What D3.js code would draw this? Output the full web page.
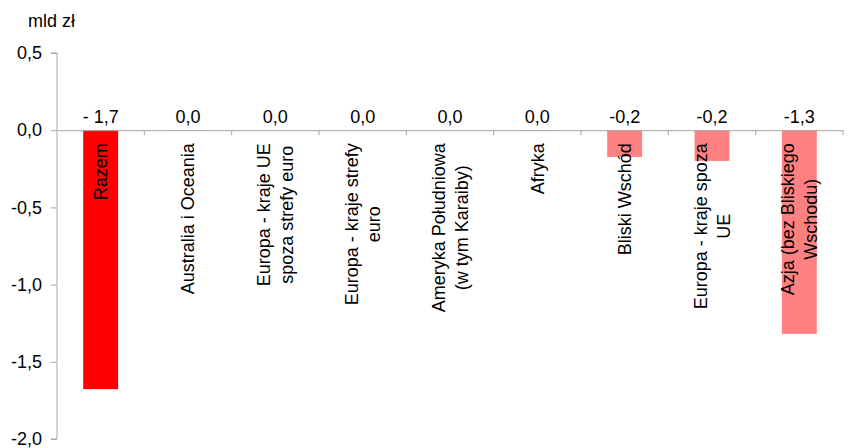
<!DOCTYPE html>
<html>
<head>
<meta charset="utf-8">
<script src="https://cdn.jsdelivr.net/npm/d3@7"></script>
<style>
  body { margin: 0; background: #fff; }
  svg { display: block; }
  text { font-family: "Liberation Sans", Arial, sans-serif; fill: #000; }
</style>
</head>
<body>
<svg id="chart" width="861" height="448"></svg>
<script>
const categories = [
  ["Razem"],
  ["Australia i Oceania"],
  ["Europa - kraje UE", "spoza strefy euro"],
  ["Europa - kraje strefy", "euro"],
  ["Ameryka Południowa", "(w tym Karaiby)"],
  ["Afryka"],
  ["Bliski Wschód"],
  ["Europa - kraje spoza", "UE"],
  ["Azja (bez Bliskiego", "Wschodu)"]
];
const values = [-1.677, -0.002, 0.0, 0.0, 0.0, -0.003, -0.173, -0.199, -1.319];
const valueLabels = ["- 1,7", "0,0", "0,0", "0,0", "0,0", "0,0", "-0,2", "-0,2", "-1,3"];
const yTicks = [0.5, 0.0, -0.5, -1.0, -1.5, -2.0];
const yTickLabels = ["0,5", "0,0", "-0,5", "-1,0", "-1,5", "-2,0"];
const unitLabel = "mld zł";

(function () {
const svg = d3.select("#chart");
const mLeft = 57, mRight = 843, mTop = 53, mBottom = 439;
const fs = 18;

const x = d3.scaleBand().domain(d3.range(categories.length)).range([mLeft, mRight]).paddingInner(0).paddingOuter(0);
const y = d3.scaleLinear().domain([0.5, -2.0]).range([mTop, mBottom]);
const axisColor = "#a6a6a6";
const barW = x.bandwidth() * 0.4;

// unit label
svg.append("text").attr("x", 28).attr("y", 27).attr("font-size", fs).text(unitLabel);

// bars
svg.append("g").selectAll("rect").data(values).join("rect")
  .attr("x", (d, i) => x(i) + (x.bandwidth() - barW) / 2)
  .attr("width", barW)
  .attr("y", d => y(Math.max(0, d)))
  .attr("height", d => Math.abs(y(d) - y(0)))
  .attr("fill", (d, i) => i === 0 ? "#ff0000" : "#ff8080");

// y axis
const yAxis = d3.axisLeft(y).tickValues(yTicks).tickFormat((d, i) => yTickLabels[i]).tickSize(6).tickPadding(9);
const gy = svg.append("g").attr("transform", `translate(${mLeft},0)`).call(yAxis);
gy.select(".domain").attr("stroke", axisColor).attr("d", `M-6,${y(0.5)}H0V${y(-2.0)}H-6`);
gy.selectAll(".tick line").attr("stroke", axisColor);
gy.selectAll(".tick text").attr("font-size", fs).attr("font-family", "Liberation Sans, Arial, sans-serif").attr("fill", "#000");

// zero (category) axis
const xAxis = d3.axisBottom(x).tickValues([]).tickSizeOuter(0);
const gx = svg.append("g").attr("transform", `translate(0,${y(0)})`).call(xAxis);
gx.select(".domain").attr("stroke", axisColor);
gx.selectAll(".sep").data(d3.range(1, categories.length + 1)).join("line")
  .attr("class", "sep")
  .attr("x1", i => i < categories.length ? x(i) : mRight)
  .attr("x2", i => i < categories.length ? x(i) : mRight)
  .attr("y1", 0).attr("y2", 5)
  .attr("stroke", axisColor);

// value labels
svg.append("g").selectAll("text").data(valueLabels).join("text")
  .attr("x", (d, i) => x(i) + x.bandwidth() / 2)
  .attr("y", y(0) - 7)
  .attr("text-anchor", "middle")
  .attr("font-size", fs)
  .text(d => d);

// category labels (rotated)
const labelTop = y(0) + 13;
const lineH = 22.5;
categories.forEach((lines, i) => {
  const g = svg.append("g")
    .attr("transform", `translate(${x(i) + x.bandwidth() / 2},${labelTop}) rotate(-90)`);
  const texts = lines.map((ln, k) => g.append("text")
    .attr("font-size", fs)
    .attr("text-anchor", "middle")
    .attr("dy", "0.35em")
    .attr("y", (k - (lines.length - 1) / 2) * lineH)
    .text(ln));
  const L = d3.max(texts, t => t.node().getComputedTextLength());
  texts.forEach(t => t.attr("x", -L / 2));
});
})();
</script>
</body>
</html>
